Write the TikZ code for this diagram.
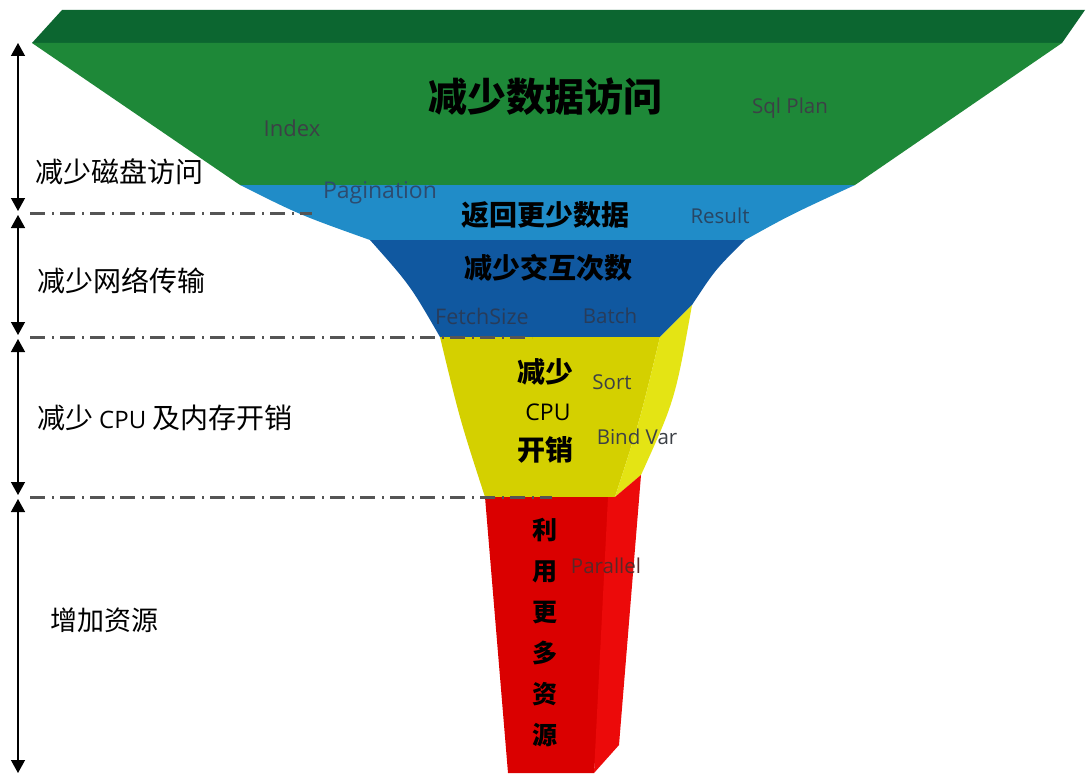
\documentclass[tikz,border=0pt]{standalone}
\usepackage{fontspec}
\setmainfont{Open Sans}
\newfontfamily\cjk{Noto Sans CJK SC}
\usetikzlibrary{arrows.meta}
\definecolor{topgreen}{RGB}{12,102,48}
\definecolor{frontgreen}{RGB}{30,136,56}
\definecolor{lightblue}{RGB}{32,140,200}
\definecolor{darkblue}{RGB}{16,88,160}
\definecolor{yellowfront}{RGB}{212,208,0}
\definecolor{yellowside}{RGB}{228,228,20}
\definecolor{redfront}{RGB}{218,0,0}
\definecolor{redside}{RGB}{236,10,10}
\definecolor{labelgray}{RGB}{60,64,70}
\definecolor{dashgray}{RGB}{85,85,85}
\tikzset{
  big/.style={font=\cjk\bfseries\fontsize{39}{44}\selectfont, text=black, inner sep=0pt},
  mid/.style={font=\cjk\bfseries\fontsize{28}{32}\selectfont, text=black, inner sep=0pt},
  side/.style={font=\cjk\fontsize{28}{32}\selectfont, text=black, inner sep=0pt, anchor=west},
  tag/.style={font=\fontsize{20.5}{24}\selectfont, text=labelgray, inner sep=0pt},
  sep/.style={dashgray, line width=3pt, dash pattern=on 15pt off 7pt on 2pt off 6pt},
  dim/.style={black, line width=1.4pt, {Triangle[length=13pt,width=14pt]}-{Triangle[length=13pt,width=14pt]}}
}
\begin{document}
\begin{tikzpicture}[x=1pt,y=-1pt]
\useasboundingbox (0,0) rectangle (1091,773);
\fill[white] (0,0) rectangle (1091,773);
% funnel
\fill[topgreen] (62,10) -- (1085,10) -- (1062,43) -- (32,43) -- cycle;
\fill[frontgreen] (32,43) -- (1062,43) -- (855,185) -- (240,185) -- cycle;
\fill[lightblue] (240,185) -- (855,185) .. controls (790,215) .. (745,240) -- (370,240) .. controls (300,215) .. (240,185) -- cycle;
\fill[darkblue] (370,240) -- (745,240) .. controls (715,270) .. (692,305) -- (660,337) -- (440,337) .. controls (410,285) .. (370,240) -- cycle;
\fill[yellowfront] (440,337) -- (660,337) .. controls (640,420) .. (615,497) -- (485,497) .. controls (460,420) .. (440,337) -- cycle;
\fill[yellowside] (660,337) -- (692,305) .. controls (675,400) .. (641,475) -- (615,497) .. controls (640,420) .. (660,337) -- cycle;
\fill[redfront] (485,497) -- (615,497) -- (594,773) -- (508,773) -- cycle;
\fill[redside] (608,497) -- (615,497) -- (641,475) -- (619,745) -- (594,773) -- cycle;
% separators
\coordinate (s1a) at (30,213); \coordinate (s1b) at (312,213);
\coordinate (s2a) at (30,337); \coordinate (s2b) at (532,337);
\coordinate (s3a) at (30,497); \coordinate (s3b) at (552,497);
\draw[sep] (s1a) -- (s1b);
\draw[sep] (s2a) -- (s2b);
\draw[sep] (s3a) -- (s3b);
% dimension arrows
\coordinate (d0) at (18,43);
\coordinate (d1t) at (18,211); \coordinate (d1b) at (18,215);
\coordinate (d2t) at (18,335); \coordinate (d2b) at (18,339);
\coordinate (d3t) at (18,495); \coordinate (d3b) at (18,499);
\coordinate (d4) at (18,773);
\draw[dim] (d0) -- (d1t);
\draw[dim] (d1b) -- (d2t);
\draw[dim] (d2b) -- (d3t);
\draw[dim] (d3b) -- (d4);
% left labels
\node[side] (l1) at (35,172) {减少磁盘访问};
\node[side] (l2) at (37,281) {减少网络传输};
\node[side] (l3) at (37,418) {减少\hspace{6pt}{\fontspec{Open Sans}\fontsize{24}{28}\selectfont CPU}\hspace{6pt}及内存开销};
\node[side, font=\cjk\fontsize{27}{32}\selectfont] (l4) at (50,620) {增加资源};
% main labels
\node[big] (m1) at (545,97) {减少数据访问};
\node[mid] (m2) at (545,215) {返回更少数据};
\node[mid] (m3) at (548,268) {减少交互次数};
\node[mid] (m4) at (545,372) {减少};
\node[font=\fontsize{23}{26}\selectfont, inner sep=0pt] (m5) at (548,412) {CPU};
\node[mid] (m6) at (545,450) {开销};
\node[mid, align=center, font=\cjk\bfseries\fontsize{25}{41}\selectfont] (m7) at (545,633) {利\\用\\更\\多\\资\\源};
% tags
\node[tag, font=\fontsize{22}{26}\selectfont] (t1) at (292,128) {Index};
\node[tag] (t2) at (790,108) {Sql Plan};
\node[tag, font=\fontsize{23}{26}\selectfont, text={rgb,255:red,45;green,75;blue,110}] (t3) at (380,193) {Pagination};
\node[tag, text={rgb,255:red,40;green,70;blue,100}] (t4) at (720,216) {Result};
\node[tag, font=\fontsize{21.5}{24}\selectfont, text={rgb,255:red,40;green,60;blue,90}] (t5) at (482,316) {FetchSize};
\node[tag, text={rgb,255:red,40;green,60;blue,90}] (t6) at (610,316) {Batch};
\node[tag] (t7) at (612,382) {Sort};
\node[tag] (t8) at (637,437) {Bind Var};
\node[tag, text={rgb,255:red,90;green,40;blue,40}] (t9) at (606,566) {Parallel};
\end{tikzpicture}
\end{document}
